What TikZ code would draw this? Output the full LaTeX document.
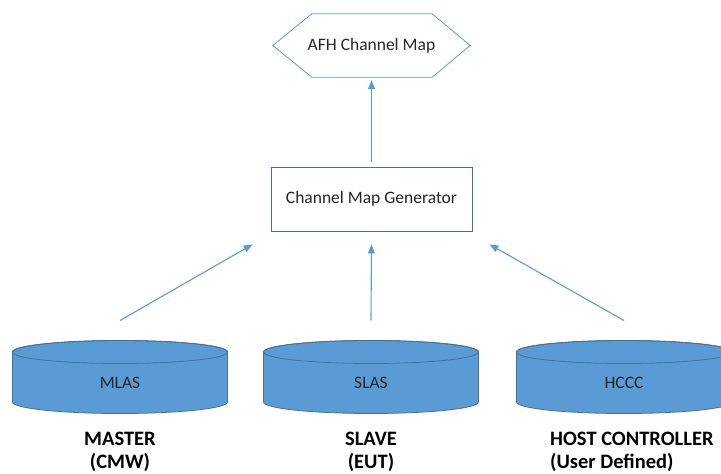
\documentclass[tikz,border=0pt]{standalone}
\usepackage{fontspec}
\setmainfont{Carlito}
\usetikzlibrary{calc,arrows.meta}
\definecolor{dbblue}{HTML}{5B9BD5}
\definecolor{dbedge}{HTML}{41719C}
\definecolor{inktext}{HTML}{262626}
\tikzset{
  flow/.style={draw=dbblue, line width=1.1pt, -{Triangle[width=7pt,length=9pt]}},
  genbox/.style={draw=dbedge, line width=0.8pt, minimum width=201pt, minimum height=64pt,
    font=\fontsize{17.5}{20}\selectfont, text=inktext},
  mapbox/.style={minimum width=197pt, minimum height=63pt,
    font=\fontsize{17.5}{20}\selectfont, text=inktext},
  rolelabel/.style={font=\fontsize{20.5}{23.5}\selectfont\bfseries, text=black, inner sep=0pt}
}
% #1 name, #2 centre x, #3 label
\newcommand\dbcyl[3]{%
  \filldraw[fill=dbblue, draw=dbedge, line width=0.8pt]
    (#2-107.5, 122) -- (#2-107.5, 72)
    arc[start angle=180, end angle=360, x radius=107.5, y radius=11.5]
    -- (#2+107.5, 122)
    arc[start angle=0, end angle=180, x radius=107.5, y radius=11.5] -- cycle;
  \draw[dbedge, line width=0.8pt] (#2, 122) ellipse [x radius=107.5, y radius=11.5];
  \node[font=\fontsize{17.5}{20}\selectfont, text=inktext] (#1) at (#2, 91) {#3};
  \coordinate (#1-top) at (#2, 133.5)
}

\begin{document}
\begin{tikzpicture}[x=1pt, y=1pt]
  \useasboundingbox (0,0) rectangle (721,474);

  % The databases
  \dbcyl{mlas}{120}{MLAS};
  \dbcyl{slas}{371}{SLAS};
  \dbcyl{hccc}{624}{HCCC};

  % The roles underneath
  \node[rolelabel, align=center, anchor=north] (master) at (120, 42.5) {MASTER\\(CMW)};
  \node[rolelabel, align=center, anchor=north] (slave) at (371, 42.5) {SLAVE\\(EUT)};
  \node[rolelabel, align=left, anchor=north west] (host) at (550, 42.5) {HOST CONTROLLER\\(User Defined)};

  % Generator and map
  \node[genbox] (gen) at (371.5, 275) {Channel Map Generator};
  \node[mapbox] (afh) at (371.5, 428.5) {AFH Channel Map};
  \draw[dbblue, line width=0.8pt] (afh.west) -- ([xshift=39pt]afh.north west)
    -- ([xshift=-38pt]afh.north east) -- (afh.east)
    -- ([xshift=-38pt]afh.south east) -- ([xshift=39pt]afh.south west) -- cycle;

  % Arrows
  \draw[flow] ([yshift=20pt]mlas-top) -- ($(gen.south west)+(-18,-13)$);
  \draw[flow] ([yshift=20pt]slas-top) -- ([yshift=-13pt]gen.south);
  \draw[flow] ([yshift=20pt]hccc-top) -- ($(gen.south east)+(17,-13)$);
  \draw[flow] ([yshift=5pt]gen.north) -- ([yshift=-3pt]afh.south);
\end{tikzpicture}
\end{document}
